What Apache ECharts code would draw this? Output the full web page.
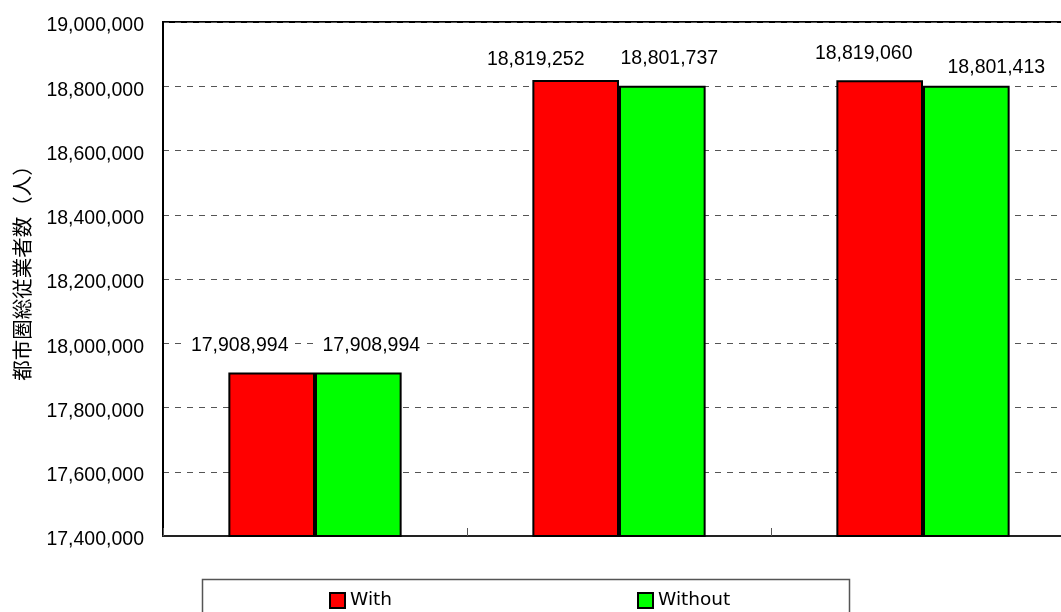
<!DOCTYPE html>
<html>
<head>
<meta charset="utf-8">
<script src="https://cdn.jsdelivr.net/npm/echarts@6/dist/echarts.min.js"></script>
<style>
  html, body { margin: 0; padding: 0; background: #fff; overflow: hidden; }
  #chart { width: 1090px; height: 612px; }
</style>
</head>
<body>
<div id="chart"></div>
<script>
// Employed persons in the metropolitan area, with / without the project
const categories = ['Case 1', 'Case 2', 'Case 3'];
const withValues = [17908994, 18819252, 18819060];
const withoutValues = [17908994, 18801737, 18801413];
const seriesNames = ['With', 'Without'];
const yTicks = { min: 17400000, max: 19000000, step: 200000 };
const yTitle = '都市圏総従業者数（人）';

// hand-placed value label nudges [dx, dy] per bar
const withLabelNudge = [[-32, -15], [-40, -8], [-16, -15]];
const withoutLabelNudge = [[13, -15], [7, -15], [30, -6]];

const numFont = '"Liberation Sans", Arial, sans-serif';
const fmt = v => v.toLocaleString('en-US');

function buildData(values, nudges) {
  return values.map((v, i) => ({
    value: v,
    label: { offset: nudges[i] }
  }));
}

const valueLabel = {
  show: true,
  position: 'top',
  distance: 0,
  formatter: p => fmt(p.value),
  fontFamily: numFont,
  fontSize: 19.5,
  lineHeight: 20,
  color: '#000',
  backgroundColor: '#fff',
  padding: [2, 4]
};

const chart = echarts.init(document.getElementById('chart'), null, { renderer: 'canvas' });

chart.setOption({
  animation: false,
  backgroundColor: '#fff',
  grid: {
    left: 163, top: 22, width: 912, height: 514,
    show: true, borderColor: '#000', borderWidth: 2, backgroundColor: 'transparent'
  },
  legend: {
    data: seriesNames,
    left: 329,
    top: 591,
    padding: 0,
    icon: 'rect',
    itemWidth: 15,
    itemHeight: 15,
    itemGap: 245,
    itemStyle: { borderWidth: 2 },
    textStyle: { fontFamily: '"DejaVu Sans", sans-serif', fontSize: 18.5, color: '#000' }
  },
  graphic: [{
    type: 'rect',
    shape: { x: 202.5, y: 579.5, width: 647, height: 60 },
    style: { fill: 'none', stroke: '#555', lineWidth: 1.5 },
    z: -1
  }],
  xAxis: {
    type: 'category',
    data: categories,
    axisLine: { lineStyle: { color: '#222', width: 2 } },
    axisTick: { show: true, inside: true, length: 8, lineStyle: { color: '#555', width: 1 } },
    axisLabel: { show: false },
    splitLine: { show: false }
  },
  yAxis: {
    type: 'value',
    min: yTicks.min,
    max: yTicks.max,
    interval: yTicks.step,
    name: yTitle,
    nameLocation: 'middle',
    nameRotate: 90,
    nameGap: 131,
    nameTextStyle: {
      fontFamily: '"Noto Sans CJK JP", sans-serif',
      fontSize: 20.5,
      color: '#000',
      padding: [0, 0, 0, 22]
    },
    axisLine: { show: true, lineStyle: { color: '#000', width: 2 } },
    axisTick: { show: false },
    axisLabel: {
      formatter: v => '{n|' + fmt(v) + '}',
      margin: 19,
      rich: {
        n: {
          fontFamily: numFont,
          fontSize: 19.5,
          color: '#000',
          padding: [8, 0, 0, 0]
        }
      }
    },
    splitLine: { show: true, lineStyle: { color: '#555', width: 1, type: [6, 6] } }
  },
  series: [
    {
      name: seriesNames[0],
      type: 'bar',
      data: buildData(withValues, withLabelNudge),
      barGap: '0%',
      barCategoryGap: '43%',
      itemStyle: { color: '#ff0000', borderColor: '#000', borderWidth: 2 },
      label: valueLabel,
      z: 3
    },
    {
      name: seriesNames[1],
      type: 'bar',
      data: buildData(withoutValues, withoutLabelNudge),
      barGap: '0%',
      barCategoryGap: '43%',
      itemStyle: { color: '#00ff00', borderColor: '#000', borderWidth: 2 },
      label: valueLabel,
      z: 3
    }
  ]
});
</script>
</body>
</html>
